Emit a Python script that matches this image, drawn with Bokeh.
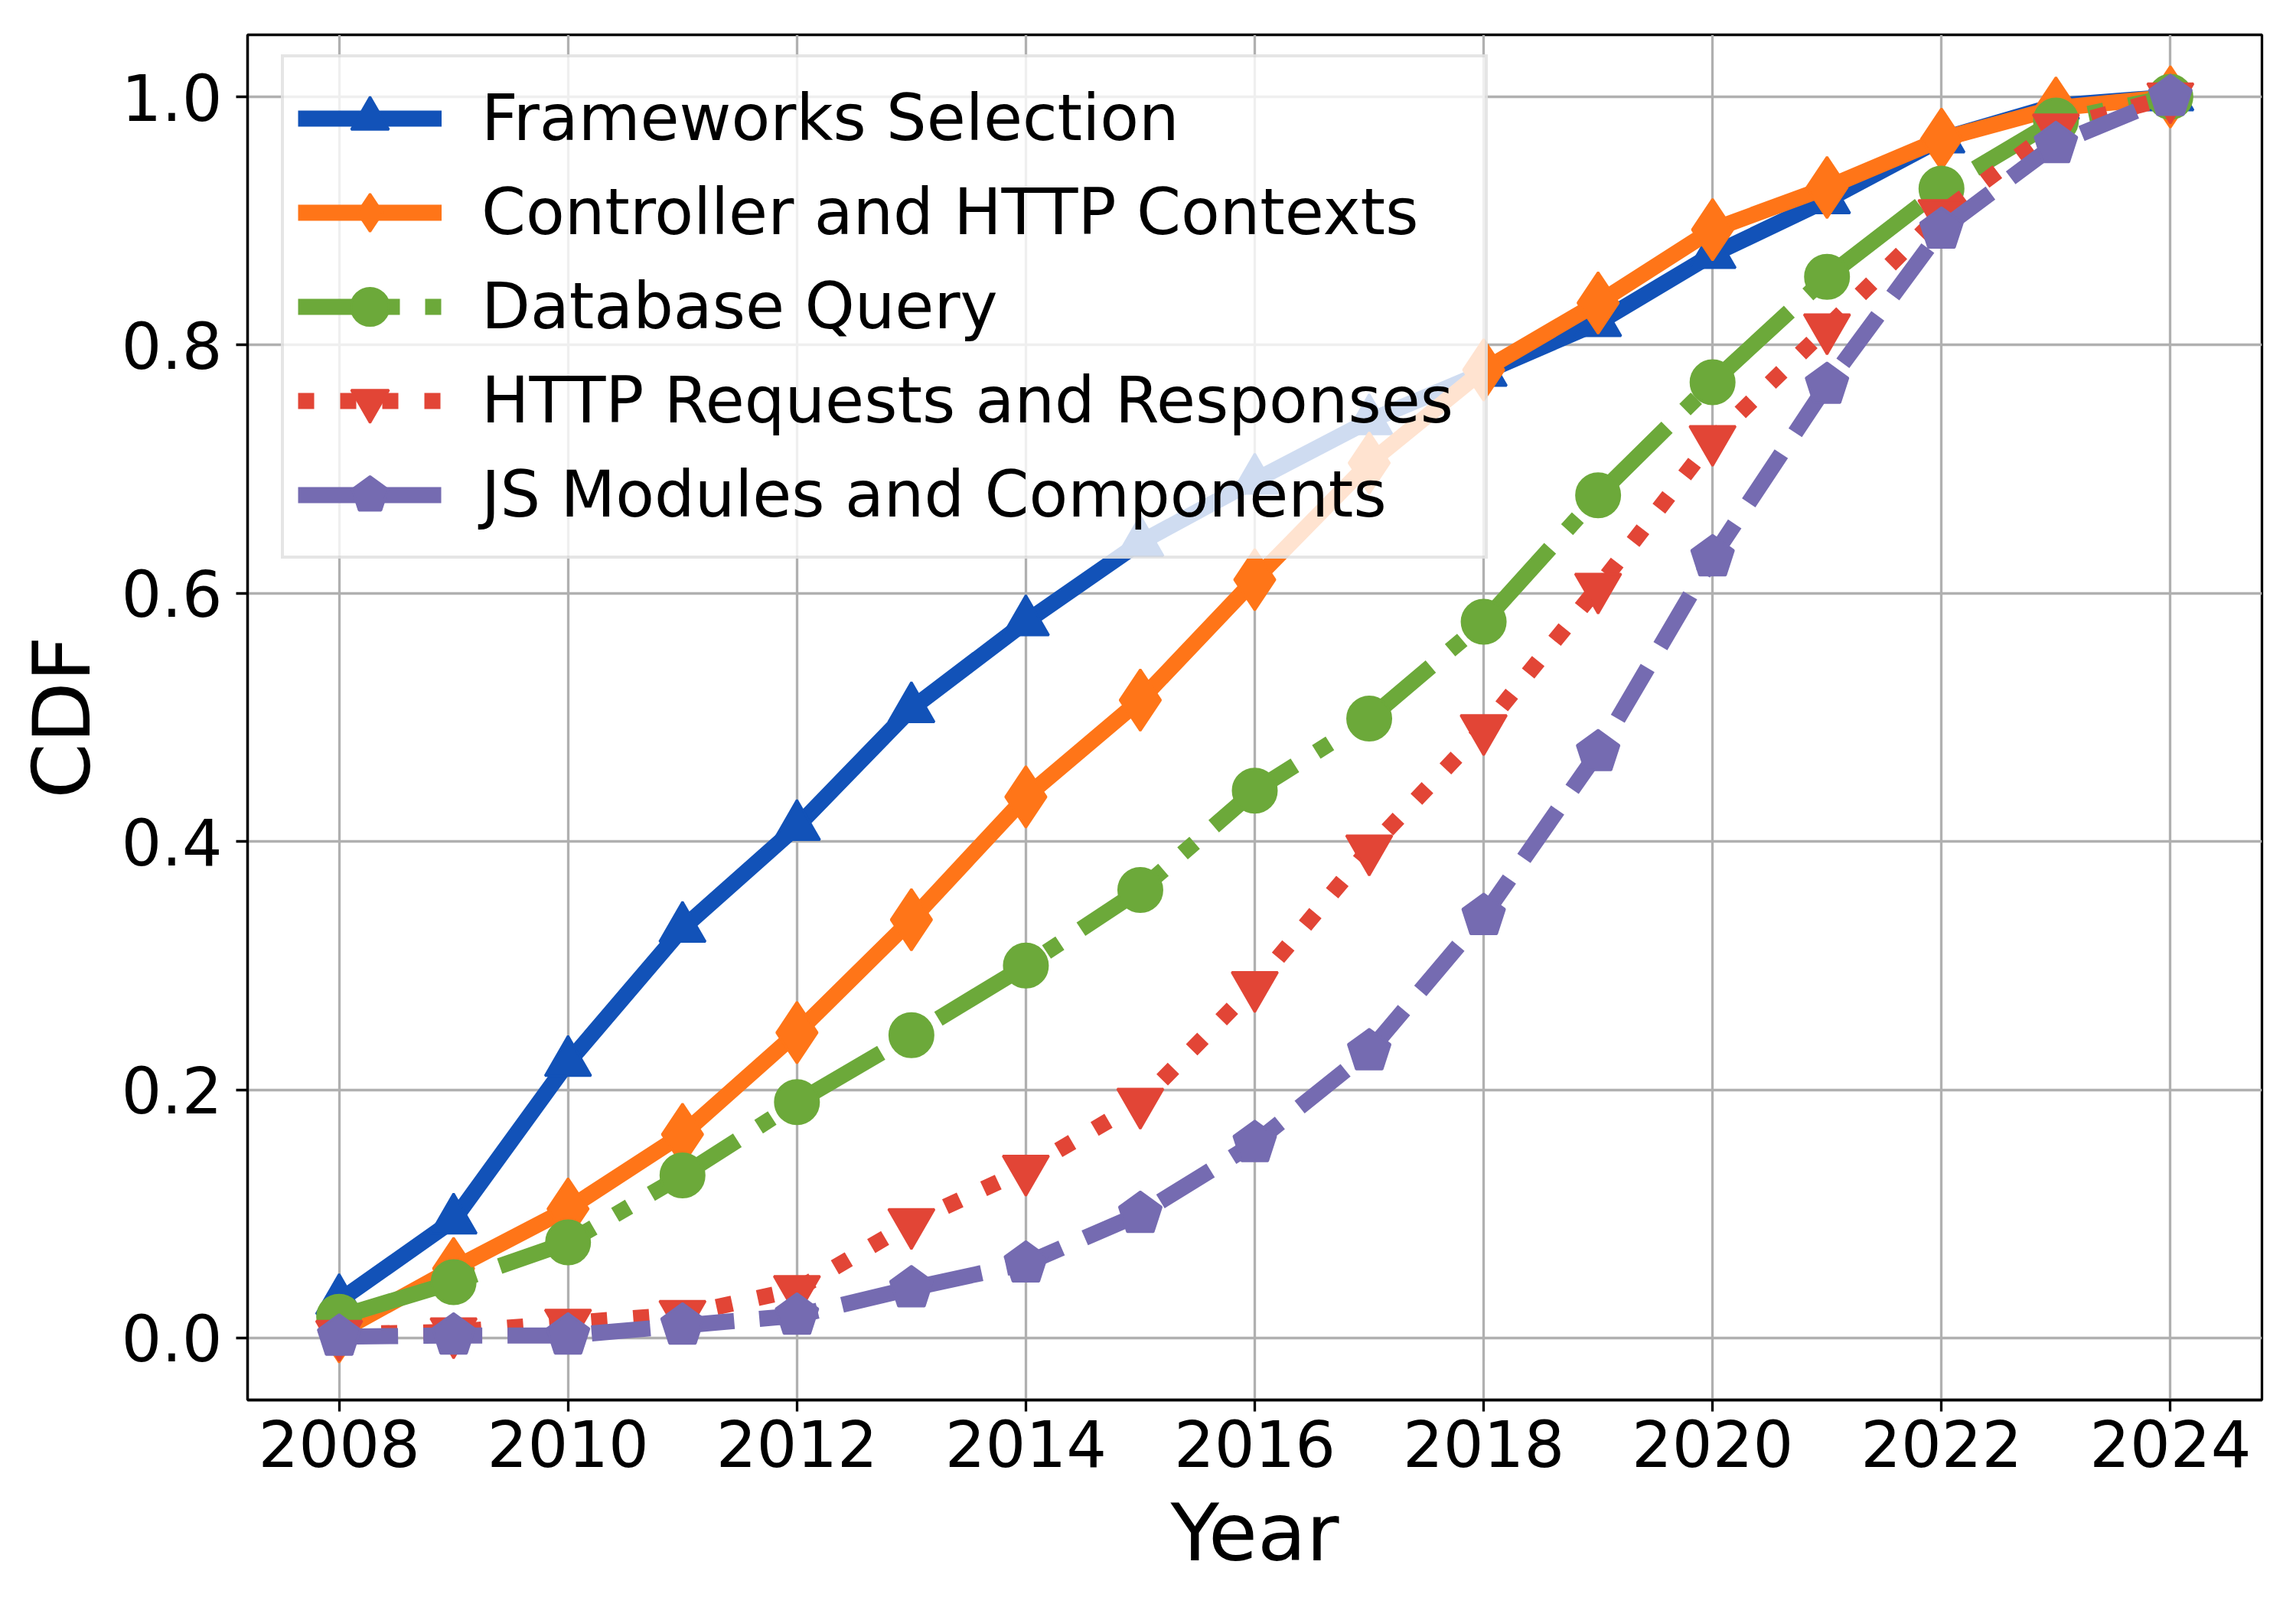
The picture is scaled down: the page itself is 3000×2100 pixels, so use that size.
from bokeh.plotting import figure
from bokeh.models import Range1d, FixedTicker, PrintfTickFormatter, Legend, LegendItem, ColumnDataSource
from bokeh.embed import file_html
from bokeh.resources import INLINE

# ---- data ----
years = [2008, 2009, 2010, 2011, 2012, 2013, 2014, 2015, 2016, 2017, 2018, 2019, 2020, 2021, 2022, 2023, 2024]
frameworks = [0.030, 0.095, 0.222, 0.330, 0.412, 0.507, 0.577, 0.641, 0.691, 0.739, 0.778, 0.818, 0.873, 0.917, 0.966, 0.993, 1.000]
controller = [0.005, 0.056, 0.104, 0.164, 0.246, 0.337, 0.436, 0.514, 0.611, 0.705, 0.780, 0.834, 0.893, 0.927, 0.966, 0.991, 1.000]
database = [0.017, 0.045, 0.077, 0.131, 0.190, 0.244, 0.300, 0.361, 0.441, 0.499, 0.577, 0.679, 0.770, 0.855, 0.926, 0.981, 1.000]
http_req = [0.003, 0.005, 0.012, 0.019, 0.039, 0.093, 0.136, 0.190, 0.284, 0.394, 0.491, 0.605, 0.724, 0.814, 0.906, 0.975, 1.000]
js_modules = [0.001, 0.002, 0.002, 0.010, 0.018, 0.040, 0.060, 0.100, 0.157, 0.231, 0.340, 0.472, 0.629, 0.768, 0.893, 0.962, 1.000]

labels = ["Frameworks Selection", "Controller and HTTP Contexts", "Database Query",
          "HTTP Requests and Responses", "JS Modules and Components"]
x_ticks = [2008, 2010, 2012, 2014, 2016, 2018, 2020, 2022, 2024]
y_ticks = [0.0, 0.2, 0.4, 0.6, 0.8, 1.0]

FONT = "DejaVu Sans"

p = figure(width=2984, height=2084, output_backend="svg", toolbar_location=None,
           x_range=Range1d(2007.2, 2024.8), y_range=Range1d(-0.05, 1.05),
           min_border_left=323, min_border_right=29, min_border_top=45, min_border_bottom=255)
p.background_fill_color = "white"
p.border_fill_color = "white"
p.outline_line_color = "black"
p.outline_line_width = 3.3

for ax in (p.xaxis[0], p.yaxis[0]):
    ax.axis_line_width = 3.3
    ax.axis_line_color = "black"
    ax.major_tick_line_width = 3.3
    ax.major_tick_out = 15
    ax.major_tick_in = 0
    ax.minor_tick_line_color = None
    ax.major_label_text_font = FONT
    ax.major_label_text_font_size = "83px"
    ax.major_label_text_color = "black"
    ax.axis_label_text_font = FONT
    ax.axis_label_text_font_size = "104px"
    ax.axis_label_text_font_style = "normal"
    ax.axis_label_text_color = "black"

p.xaxis.ticker = FixedTicker(ticks=x_ticks)
p.yaxis.ticker = FixedTicker(ticks=y_ticks)
p.yaxis.formatter = PrintfTickFormatter(format="%.1f")
p.xaxis.axis_label = "Year"
p.yaxis.axis_label = "CDF"
p.xaxis.major_label_standoff = 10
p.yaxis.major_label_standoff = 18
p.xaxis.axis_label_standoff = 22
p.yaxis.axis_label_standoff = 14

for g in (p.xgrid[0], p.ygrid[0]):
    g.grid_line_color = "#b0b0b0"
    g.grid_line_width = 3.3

LW = 21
items = []

src = ColumnDataSource(dict(x=years, a=frameworks, b=controller, c=database, d=http_req, e=js_modules))

# Frameworks Selection
c1 = "#1252b8"
l1 = p.line("x", "a", source=src, line_color=c1, line_width=LW, line_join="round")
s1 = p.scatter("x", "a", source=src, marker="triangle", size=60, fill_color=c1, line_color=c1, line_width=3)
items.append(LegendItem(label=labels[0], renderers=[l1, s1]))

# Controller and HTTP Contexts
c2 = "#ff7518"
l2 = p.line("x", "b", source=src, line_color=c2, line_width=LW, line_join="round")
s2 = p.scatter("x", "b", source=src, marker="diamond", size=80, fill_color=c2, line_color=c2, line_width=3)
items.append(LegendItem(label=labels[1], renderers=[l2, s2]))

# Database Query
c3 = "#6ca93a"
l3 = p.line("x", "c", source=src, line_color=c3, line_width=LW, line_dash="133 33 21 33")
s3 = p.scatter("x", "c", source=src, marker="circle", size=57, fill_color=c3, line_color=c3, line_width=3)
items.append(LegendItem(label=labels[2], renderers=[l3, s3]))

# HTTP Requests and Responses
c4 = "#e24536"
l4 = p.line("x", "d", source=src, line_color=c4, line_width=LW, line_dash="21 34")
s4 = p.scatter("x", "d", source=src, marker="inverted_triangle", size=60, fill_color=c4, line_color=c4, line_width=3)
items.append(LegendItem(label=labels[3], renderers=[l4, s4]))

# JS Modules and Components
c5 = "#756bb1"
l5 = p.line("x", "e", source=src, line_color=c5, line_width=LW, line_dash="77 33")
try:
    s5 = p.ngon("x", "e", source=src, radius=29, radius_units="screen", n=5, angle=0,
                fill_color=c5, line_color=c5, line_width=3)
except Exception:
    s5 = p.scatter("x", "e", source=src, marker="hex", size=58, fill_color=c5, line_color=c5, line_width=3)
items.append(LegendItem(label=labels[4], renderers=[l5, s5]))

legend = Legend(items=items, location=(44, 1099), margin=0, padding=18,
                glyph_width=188, glyph_height=123, spacing=0, label_standoff=52,
                label_width=1293,
                label_text_font=FONT, label_text_font_size="83px", label_text_color="black",
                border_line_color="#cccccc", border_line_width=4,
                background_fill_color="white", background_fill_alpha=0.8)
p.add_layout(legend)

open("out.html", "w").write(file_html(p, INLINE))
